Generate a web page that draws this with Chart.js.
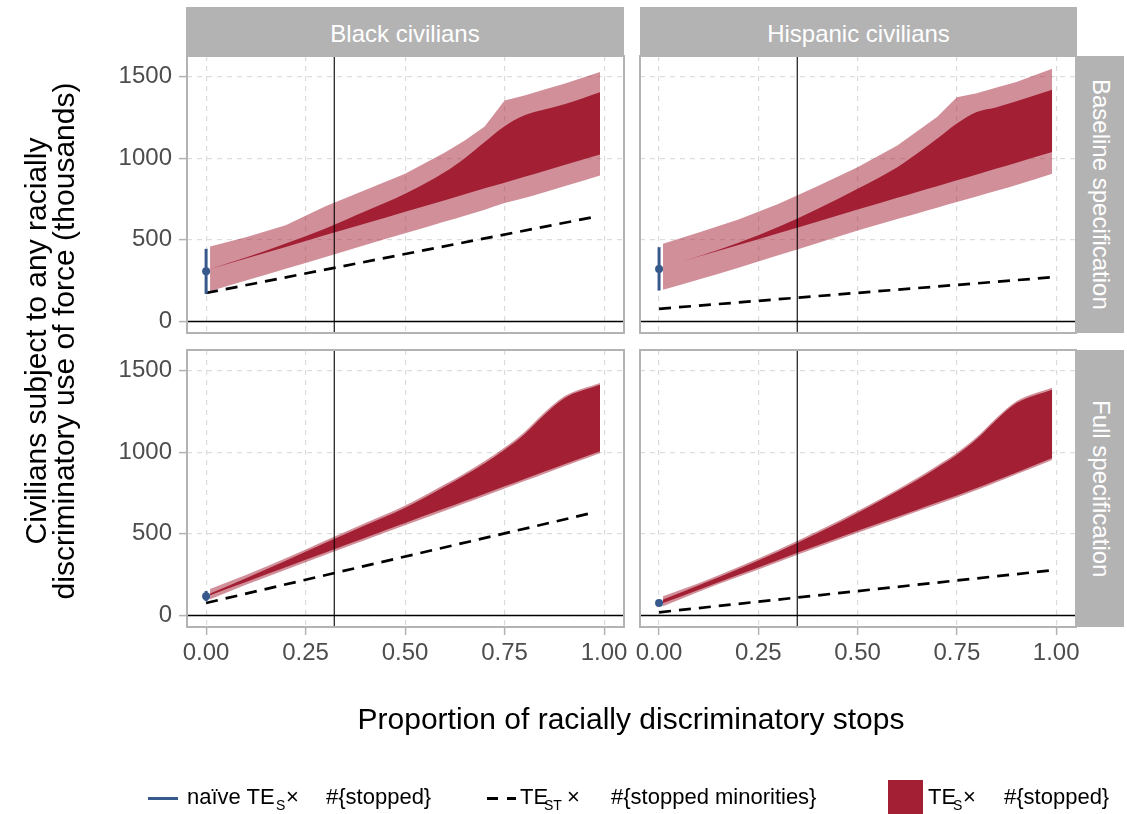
<!DOCTYPE html>
<html><head><meta charset="utf-8">
<script src="https://cdn.jsdelivr.net/npm/chart.js@4"></script>
<style>
body{margin:0;width:1127px;height:814px;position:relative;background:#fff;font-family:"Liberation Sans",Arial,sans-serif;overflow:hidden}
canvas{position:absolute;left:0;top:0}
.strip{position:absolute;background:#b3b3b3;color:#fff;font-size:24px;display:flex;align-items:center;justify-content:center;box-sizing:border-box}
.vert{writing-mode:vertical-rl}
.t{position:absolute;white-space:pre;line-height:1}
.lg{font-size:22px;color:#000}
.sb{font-size:14px;color:#000}
</style></head>
<body>
<canvas id="tl" width="1127" height="814"></canvas>
<canvas id="tr" width="1127" height="814"></canvas>
<canvas id="bl" width="1127" height="814"></canvas>
<canvas id="br" width="1127" height="814"></canvas>

<div class="strip" style="left:186px;top:7px;width:438px;height:48px;padding-top:5px" id="s0"></div>
<div class="strip" style="left:640px;top:7px;width:437px;height:48px;padding-top:5px" id="s1"></div>
<div class="strip vert" style="left:1077px;top:56px;width:47px;height:277px" id="s2"></div>
<div class="strip vert" style="left:1077px;top:350px;width:47px;height:277px" id="s3"></div>

<div class="t" style="left:-264px;top:326px;width:600px;height:30px;text-align:center;font-size:30px;transform:rotate(-90deg)">Civilians subject to any racially</div>
<div class="t" style="left:-236px;top:326px;width:600px;height:30px;text-align:center;font-size:30px;transform:rotate(-90deg)">discriminatory use of force (thousands)</div>
<div class="t" style="left:331px;top:704px;width:600px;text-align:center;font-size:30px">Proportion of racially discriminatory stops</div>

<div style="position:absolute;left:148px;top:797px;width:30px;height:3px;background:#38598c"></div>
<div class="t lg" style="left:187px;top:786px">naïve TE</div>
<div class="t sb" style="left:276px;top:798px">S</div>
<div class="t lg" style="left:286px;top:786px">×</div>
<div class="t lg" style="left:326px;top:786px">#{stopped}</div>

<div style="position:absolute;left:487px;top:797px;width:11px;height:3px;background:#000"></div>
<div style="position:absolute;left:507px;top:797px;width:9px;height:3px;background:#000"></div>
<div class="t lg" style="left:520px;top:786px">TE</div>
<div class="t sb" style="left:544px;top:798px">ST</div>
<div class="t lg" style="left:567px;top:786px">×</div>
<div class="t lg" style="left:611px;top:786px">#{stopped minorities}</div>

<div style="position:absolute;left:888px;top:780px;width:35px;height:35px;background:#a31f34"></div>
<div class="t lg" style="left:928px;top:786px">TE</div>
<div class="t sb" style="left:953px;top:798px">S</div>
<div class="t lg" style="left:963px;top:786px">×</div>
<div class="t lg" style="left:1004px;top:786px">#{stopped}</div>

<script>
// ---- data ----
const raceLabels = ['Black civilians', 'Hispanic civilians'];
const specLabels = ['Baseline specification', 'Full specification'];
const xTickValues = [0, 0.25, 0.5, 0.75, 1];
const xTickLabels = ['0.00', '0.25', '0.50', '0.75', '1.00'];
const yTickValues = [0, 500, 1000, 1500];
const yTickLabels = ['0', '500', '1000', '1500'];
const xRange = [-0.048, 1.05];
const yRange = [-70, 1625];

const xGrid = [0.01, 0.1, 0.2, 0.3, 0.4, 0.5, 0.6, 0.65, 0.7, 0.75, 0.8, 0.85, 0.9, 0.99];

// Black civilians, baseline specification
const blackBaseLightUpper = [459, 516, 590, 705, 805, 904, 1035, 1108, 1194, 1353, 1384, 1420, 1455, 1527];
const blackBaseLightLower = [186, 251, 323, 395, 468, 540, 612, 648, 684, 725, 756, 792, 828, 894];
const blackBaseDarkUpper  = [322, 392, 478, 570, 675, 782, 915, 1000, 1098, 1195, 1262, 1297, 1330, 1404];
const blackBaseDarkLower  = [322, 386, 457, 529, 600, 672, 743, 779, 815, 850, 886, 922, 958, 1022];
const blackBaseDashedX = [0, 0.975];
const blackBaseDashedY = [175, 640];
const blackBaseNaive = 308;
const blackBaseNaiveCI = [169, 445];

// Hispanic civilians, baseline specification
const hispBaseLightUpper = [476, 545, 625, 720, 830, 945, 1078, 1165, 1251, 1372, 1397, 1432, 1466, 1547];
const hispBaseLightLower = [194, 258, 330, 405, 480, 557, 627, 662, 697, 731, 766, 800, 835, 904];
const hispBaseDarkUpper  = [333, 400, 482, 578, 690, 812, 945, 1028, 1118, 1212, 1282, 1312, 1348, 1418];
const hispBaseDarkLower  = [333, 398, 469, 541, 613, 685, 757, 793, 828, 864, 900, 936, 972, 1037];
const hispBaseDashedX = [0, 0.99];
const hispBaseDashedY = [78, 271];
const hispBaseNaive = 322;
const hispBaseNaiveCI = [190, 455];

// Black civilians, full specification
const blackFullLightUpper = [163, 248, 350, 459, 566, 673, 803, 871, 946, 1028, 1123, 1242, 1342, 1424];
const blackFullLightLower = [100, 188, 281, 372, 462, 552, 642, 687, 732, 778, 823, 868, 913, 993];
const blackFullDarkUpper  = [135, 228, 335, 445, 552, 660, 790, 858, 932, 1015, 1110, 1229, 1330, 1412];
const blackFullDarkLower  = [125, 206, 296, 386, 476, 566, 656, 701, 746, 791, 836, 881, 926, 1005];
const blackFullDashedX = [0, 0.97];
const blackFullDashedY = [77, 628];
const blackFullNaive = 118;
const blackFullNaiveCI = [88, 150];

// Hispanic civilians, full specification
const hispFullLightUpper = [118, 197, 297, 402, 517, 640, 772, 842, 917, 996, 1092, 1210, 1312, 1394];
const hispFullLightLower = [57, 146, 237, 328, 418, 507, 593, 636, 680, 723, 768, 816, 864, 952];
const hispFullDarkUpper  = [98, 185, 285, 390, 505, 628, 760, 830, 905, 984, 1080, 1198, 1300, 1382];
const hispFullDarkLower  = [77, 158, 249, 340, 430, 519, 605, 648, 692, 735, 780, 828, 876, 964];
const hispFullDashedX = [0, 0.99];
const hispFullDashedY = [20, 277];
const hispFullNaive = 77;
const hispFullNaiveCI = [60, 95];

const refY = 0;
const vlineBlack = 0.322;
const vlineHisp = 0.348;

// ---- rendering ----
document.getElementById('s0').textContent = raceLabels[0];
document.getElementById('s1').textContent = raceLabels[1];
document.getElementById('s2').textContent = specLabels[0];
document.getElementById('s3').textContent = specLabels[1];

const DARK = '#a31f34', LIGHT = 'rgba(163,31,52,0.5)', BLUE = '#38598c';
const pts = (xs, ys) => xs.map((x, i) => ({x: x, y: ys[i]}));

const borderPlugin = {
  id: 'panelBorder',
  afterDraw(chart) {
    const {ctx, chartArea: a} = chart;
    ctx.save();
    ctx.strokeStyle = '#b3b3b3';
    ctx.lineWidth = 2;
    ctx.strokeRect(a.left, a.top, a.right - a.left, a.bottom - a.top);
    ctx.restore();
  }
};

function makePanel(id, p) {
  const smooth = {pointRadius: 0, borderWidth: 0, fill: false, cubicInterpolationMode: 'monotone'};
  const sharp = {pointRadius: 0, borderWidth: 0, fill: false, tension: 0};
  const upperStyle = p.sharpLight ? sharp : smooth;
  const datasets = [
    Object.assign({}, smooth, {data: pts(xGrid, p.lightLower), order: 10}),
    Object.assign({}, upperStyle, {data: pts(xGrid, p.lightUpper), fill: 0, backgroundColor: LIGHT, order: 9}),
    Object.assign({}, smooth, {data: pts(xGrid, p.darkLower), order: 8}),
    Object.assign({}, smooth, {data: pts(xGrid, p.darkUpper), fill: 2, backgroundColor: DARK, order: 7}),
    {data: pts(p.dashedX, p.dashedY), borderColor: '#000', borderWidth: 2.7, borderDash: [12, 8], pointRadius: 0, fill: false, order: 5},
    {data: pts(xRange, [refY, refY]), borderColor: '#000', borderWidth: 1.4, pointRadius: 0, fill: false, order: 4},
    {data: pts([p.vline, p.vline], yRange), borderColor: '#000', borderWidth: 1.1, pointRadius: 0, fill: false, order: 4},
    {data: pts([0, 0], p.naiveCI), borderColor: BLUE, borderWidth: 3, pointRadius: 0, fill: false, order: 2},
    {data: pts([0], [p.naive]), showLine: false, pointRadius: 4, pointBackgroundColor: BLUE, pointBorderWidth: 0, order: 1}
  ];
  const tickFont = {family: 'Liberation Sans', size: 24};
  return new Chart(document.getElementById(id), {
    type: 'line',
    data: {datasets},
    plugins: [borderPlugin],
    options: {
      responsive: false, animation: false, devicePixelRatio: 1,
      layout: {padding: p.pad},
      plugins: {legend: {display: false}, tooltip: {enabled: false}},
      scales: {
        x: {
          type: 'linear', min: xRange[0], max: xRange[1],
          afterBuildTicks: s => { s.ticks = xTickValues.map(v => ({value: v})); },
          afterFit: s => { s.height = p.showX ? 50 : 0; },
          ticks: {display: p.showX, font: tickFont, color: '#4d4d4d', padding: 4, maxRotation: 0, autoSkip: false,
                  callback: (v, i) => xTickLabels[i]},
          grid: {color: '#dcdcdc', lineWidth: 1.2, drawTicks: p.showX, tickLength: 8, tickColor: '#b3b3b3', tickWidth: 1.5},
          border: {display: false, dash: [5, 5]}
        },
        y: {
          type: 'linear', min: yRange[0], max: yRange[1],
          afterBuildTicks: s => { s.ticks = yTickValues.map(v => ({value: v})); },
          afterFit: s => { s.width = p.showY ? 87 : 0; },
          ticks: {display: p.showY, font: tickFont, color: '#4d4d4d', padding: 7, autoSkip: false,
                  callback: (v, i) => yTickLabels[i]},
          grid: {color: '#dcdcdc', lineWidth: 1.2, drawTicks: p.showY, tickLength: 8, tickColor: '#b3b3b3', tickWidth: 1.5},
          border: {display: false, dash: [5, 5]}
        }
      }
    }
  });
}

makePanel('tl', {lightUpper: blackBaseLightUpper, lightLower: blackBaseLightLower, darkUpper: blackBaseDarkUpper, darkLower: blackBaseDarkLower,
  dashedX: blackBaseDashedX, dashedY: blackBaseDashedY, naive: blackBaseNaive, naiveCI: blackBaseNaiveCI, vline: vlineBlack,
  sharpLight: true, showX: false, showY: true, pad: {left: 100, top: 56, right: 503, bottom: 481}});
makePanel('tr', {lightUpper: hispBaseLightUpper, lightLower: hispBaseLightLower, darkUpper: hispBaseDarkUpper, darkLower: hispBaseDarkLower,
  dashedX: hispBaseDashedX, dashedY: hispBaseDashedY, naive: hispBaseNaive, naiveCI: hispBaseNaiveCI, vline: vlineHisp,
  sharpLight: true, showX: false, showY: false, pad: {left: 640, top: 56, right: 51, bottom: 481}});
makePanel('bl', {lightUpper: blackFullLightUpper, lightLower: blackFullLightLower, darkUpper: blackFullDarkUpper, darkLower: blackFullDarkLower,
  dashedX: blackFullDashedX, dashedY: blackFullDashedY, naive: blackFullNaive, naiveCI: blackFullNaiveCI, vline: vlineBlack,
  sharpLight: false, showX: true, showY: true, pad: {left: 100, top: 350, right: 503, bottom: 137}});
makePanel('br', {lightUpper: hispFullLightUpper, lightLower: hispFullLightLower, darkUpper: hispFullDarkUpper, darkLower: hispFullDarkLower,
  dashedX: hispFullDashedX, dashedY: hispFullDashedY, naive: hispFullNaive, naiveCI: hispFullNaiveCI, vline: vlineHisp,
  sharpLight: false, showX: true, showY: false, pad: {left: 640, top: 350, right: 51, bottom: 137}});
</script>
</body></html>
